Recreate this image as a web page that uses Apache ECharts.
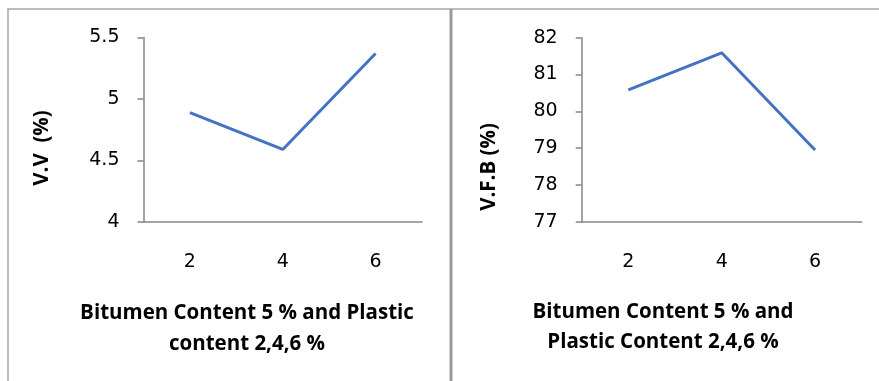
<!DOCTYPE html>
<html>
<head>
<meta charset="utf-8">
<script src="https://cdn.jsdelivr.net/npm/echarts@6/dist/echarts.min.js"></script>
<style>
  html, body { margin: 0; padding: 0; background: #fff; }
  #chart { width: 879px; height: 381px; }
</style>
</head>
<body>
<div id="chart"></div>
<script>
// Plastic content categories (%)
const plasticContent = ['2', '4', '6'];
// Voids volume (%) at 5 % bitumen
const voidsVolume = [4.89, 4.59, 5.37];
// Voids filled with bitumen (%) at 5 % bitumen
const voidsFilled = [80.58, 81.59, 78.95];

const axisGray = '#868686';
const lineBlue = '#4472C4';
const tickFont = { fontFamily: 'DejaVu Sans', fontSize: 19, color: '#000' };
const titleFont = { fontFamily: 'Open Sans', fontWeight: 'bold', fontSize: 20.5, fill: '#000' };

function yAxisCfg(gridIndex, min, max, interval) {
  return {
    type: 'value', gridIndex, min, max, interval,
    axisLine: { show: true, lineStyle: { color: axisGray, width: 1.5 } },
    axisTick: { show: true, length: 6, lineStyle: { color: axisGray, width: 1.5 } },
    splitLine: { show: false },
    axisLabel: Object.assign({ margin: 24 }, tickFont)
  };
}
function xAxisCfg(gridIndex) {
  return {
    type: 'category', gridIndex, data: plasticContent, boundaryGap: true,
    axisLine: { show: true, lineStyle: { color: axisGray, width: 1.5 } },
    axisTick: { show: false },
    axisLabel: Object.assign({ margin: 31 }, tickFont)
  };
}
function lineSeries(idx, data) {
  return {
    type: 'line', xAxisIndex: idx, yAxisIndex: idx, data,
    symbol: 'none', silent: true,
    lineStyle: { color: lineBlue, width: 3 }
  };
}

const chart = echarts.init(document.getElementById('chart'), null, { renderer: 'canvas' });
chart.setOption({
  animation: false,
  grid: [
    { left: 143.5, top: 37.5, width: 278.5, height: 184.5 },
    { left: 581.7, top: 37.7, width: 280, height: 184 }
  ],
  xAxis: [xAxisCfg(0), xAxisCfg(1)],
  yAxis: [yAxisCfg(0, 4, 5.5, 0.5), yAxisCfg(1, 77, 82, 1)],
  series: [lineSeries(0, voidsVolume), lineSeries(1, voidsFilled)],
  graphic: [
    // panel frame
    { type: 'line', shape: { x1: 7, y1: 9, x2: 879, y2: 9 }, style: { stroke: '#a6a6a6', lineWidth: 1.5 } },
    { type: 'line', shape: { x1: 8, y1: 9, x2: 8, y2: 381 }, style: { stroke: '#a6a6a6', lineWidth: 1.5 } },
    { type: 'line', shape: { x1: 451, y1: 9, x2: 451, y2: 381 }, style: { stroke: '#9a9a9a', lineWidth: 3 } },
    // axis titles
    { type: 'text', x: 42, y: 148, rotation: Math.PI / 2,
      style: Object.assign({ text: 'V.V  (%)', align: 'center', verticalAlign: 'middle' }, titleFont) },
    { type: 'text', x: 489, y: 167, rotation: Math.PI / 2,
      style: Object.assign({ text: 'V.F.B (%)', align: 'center', verticalAlign: 'middle' }, titleFont) },
    { type: 'text', x: 247, y: 313,
      style: Object.assign({ text: 'Bitumen Content 5 % and Plastic', align: 'center', verticalAlign: 'middle' }, titleFont) },
    { type: 'text', x: 247, y: 344,
      style: Object.assign({ text: 'content 2,4,6 %', align: 'center', verticalAlign: 'middle' }, titleFont) },
    { type: 'text', x: 663, y: 312,
      style: Object.assign({ text: 'Bitumen Content 5 % and', align: 'center', verticalAlign: 'middle' }, titleFont) },
    { type: 'text', x: 663, y: 342,
      style: Object.assign({ text: 'Plastic Content 2,4,6 %', align: 'center', verticalAlign: 'middle' }, titleFont) }
  ]
});
</script>
</body>
</html>
